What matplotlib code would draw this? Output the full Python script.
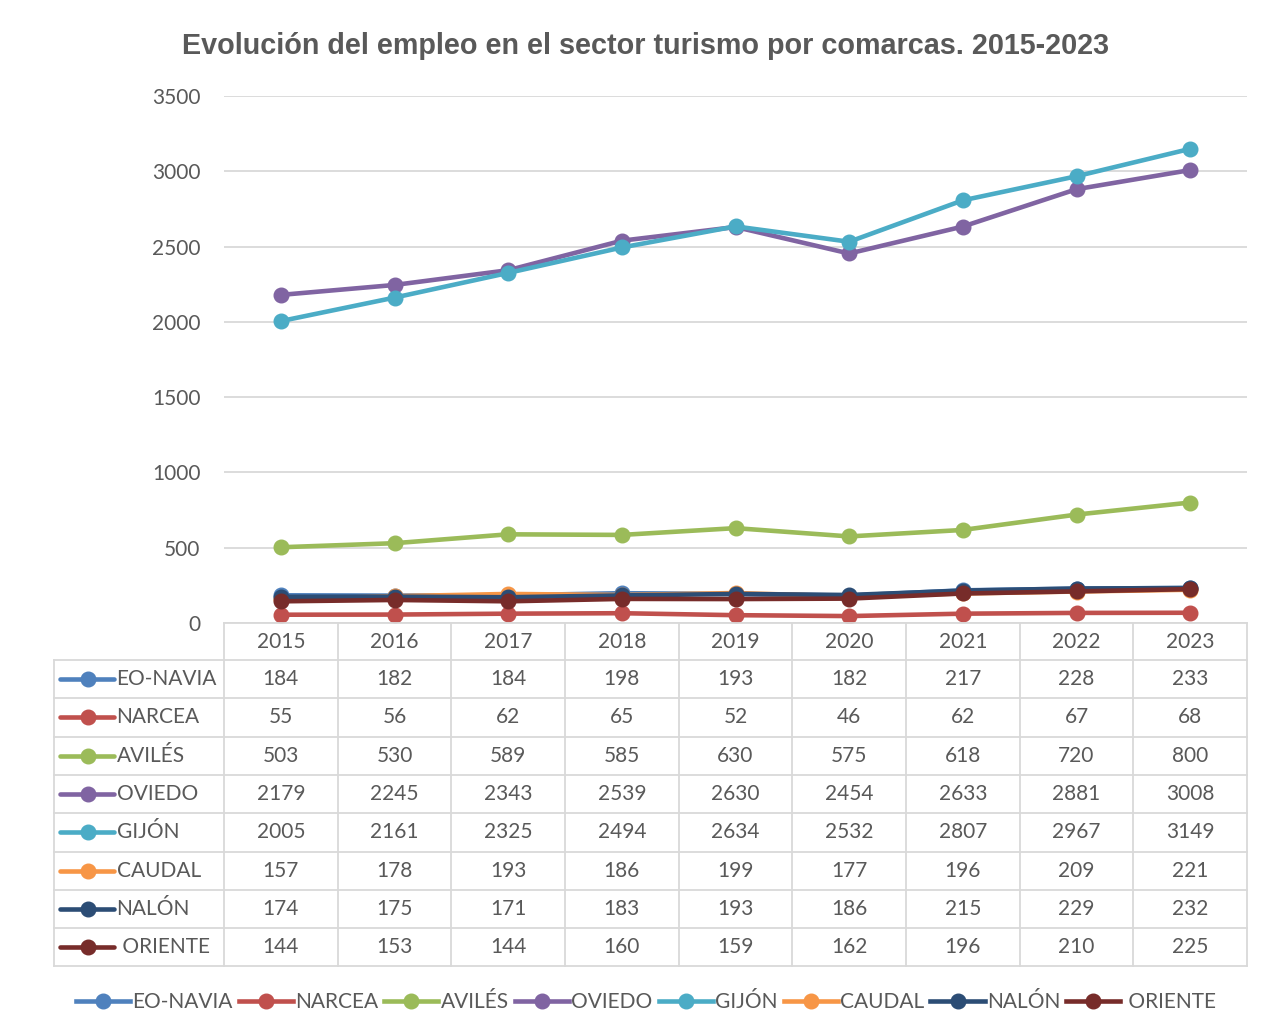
import matplotlib
matplotlib.use('Agg')
import matplotlib.pyplot as plt
from matplotlib.transforms import blended_transform_factory
from matplotlib.lines import Line2D

years = ['2015', '2016', '2017', '2018', '2019', '2020', '2021', '2022', '2023']
comarcas = ['EO-NAVIA', 'NARCEA', 'AVILÉS', 'OVIEDO', 'GIJÓN', 'CAUDAL', 'NALÓN', ' ORIENTE']
eo_navia = [184, 182, 184, 198, 193, 182, 217, 228, 233]
narcea = [55, 56, 62, 65, 52, 46, 62, 67, 68]
aviles = [503, 530, 589, 585, 630, 575, 618, 720, 800]
oviedo = [2179, 2245, 2343, 2539, 2630, 2454, 2633, 2881, 3008]
gijon = [2005, 2161, 2325, 2494, 2634, 2532, 2807, 2967, 3149]
caudal = [157, 178, 193, 186, 199, 177, 196, 209, 221]
nalon = [174, 175, 171, 183, 193, 186, 215, 229, 232]
oriente = [144, 153, 144, 160, 159, 162, 196, 210, 225]
series = [eo_navia, narcea, aviles, oviedo, gijon, caudal, nalon, oriente]
colors = ['#4F81BD', '#C0504D', '#9BBB59', '#8064A2', '#4BACC6', '#F79646', '#2C4D75', '#772C2A']

text_c = '#595959'
grid_c = '#D9D9D9'
fs = 15
plt.rcParams['font.family'] = ['Lato', 'DejaVu Sans']

fig = plt.figure(figsize=(12.71, 10.32), dpi=100)
ax = fig.add_axes([224 / 1271, 1 - 623 / 1032, 1023 / 1271, 527 / 1032])

x = list(range(len(years)))
for vals, c in zip(series, colors):
    ax.plot(x, vals, color=c, lw=3.3, marker='o', ms=10.5, solid_capstyle='round')

ax.set_xlim(-0.5, len(years) - 0.5)
ax.set_ylim(0, 3500)
ax.set_yticks(range(0, 3501, 500))
ax.tick_params(axis='y', length=0, labelsize=fs, labelcolor=text_c, pad=17)
ax.set_xticks([])
ax.grid(axis='y', color=grid_c, lw=1.3)
ax.set_axisbelow(True)
for s in ax.spines.values():
    s.set_visible(False)

fig.text(0.5075, 1 - 46 / 1032, 'Evolución del empleo en el sector turismo por comarcas. 2015-2023',
         ha='center', va='center', fontsize=20.7, fontweight='bold', color=text_c,
         family='Liberation Sans')

# data table under the axes
tr = blended_transform_factory(ax.transData, ax.transAxes)
hdr = 37 / 527
rh = 38.3 / 527
left = -2.0
nrows = len(comarcas)
bottom = -hdr - nrows * rh
kw = dict(transform=tr, clip_on=False, color=grid_c, lw=1.3)

ax.add_line(Line2D([-0.5, len(years) - 0.5], [0, 0], **kw))
for i in range(nrows + 1):
    y = -hdr - i * rh
    ax.add_line(Line2D([left, len(years) - 0.5], [y, y], **kw))
for j in range(len(years) + 1):
    xv = j - 0.5
    ax.add_line(Line2D([xv, xv], [0, bottom], **kw))
ax.add_line(Line2D([left, left], [-hdr, bottom], **kw))

for j, yr in enumerate(years):
    ax.text(j, -hdr / 2, yr, transform=tr, ha='center', va='center', fontsize=fs, color=text_c)

for i, (name, vals, c) in enumerate(zip(comarcas, series, colors)):
    yc = -hdr - (i + 0.5) * rh
    ax.add_line(Line2D([-1.94, -1.47], [yc, yc], transform=tr, clip_on=False, color=c, lw=3.3,
                       solid_capstyle='round'))
    ax.add_line(Line2D([-1.70], [yc], transform=tr, clip_on=False, color=c, marker='o', ms=10.5))
    ax.text(-1.445, yc, name, transform=tr, ha='left', va='center', fontsize=fs, color=text_c)
    for j, v in enumerate(vals):
        ax.text(j, yc, str(v), transform=tr, ha='center', va='center', fontsize=fs, color=text_c)

handles = [Line2D([], [], color=c, lw=3.3, marker='o', ms=10.5) for c in colors]
fig.legend(handles, comarcas, loc='center', bbox_to_anchor=(0.508, 1 - 1002 / 1032), ncol=8,
           frameon=False, fontsize=fs, labelcolor=text_c, handlelength=2.6,
           handletextpad=0.1, columnspacing=0.3)

fig.savefig('out.png', dpi=100, facecolor='white')
